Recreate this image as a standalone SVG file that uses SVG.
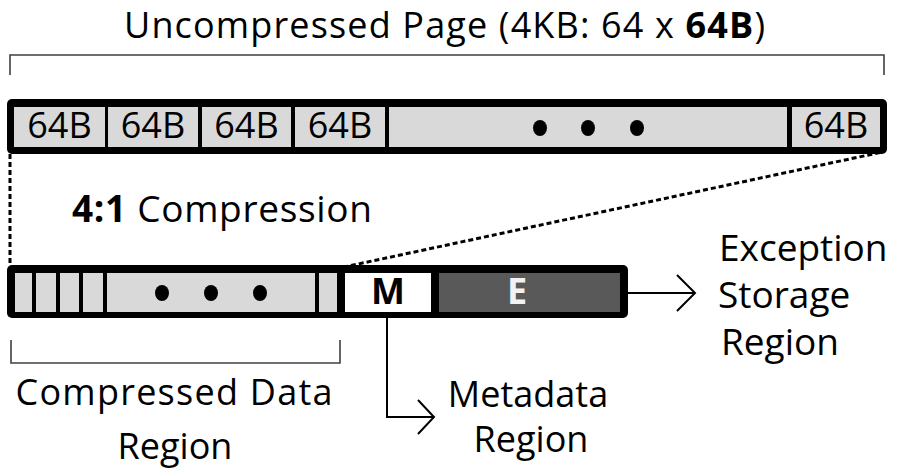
<svg xmlns="http://www.w3.org/2000/svg" width="898" height="470" viewBox="0 0 898 470">
<style>
text{font-family:"Open Sans","Noto Sans","Liberation Sans",sans-serif;fill:#000}
.t{font-size:37px}
.c{font-size:36px;text-anchor:middle}
.b{font-weight:bold}
.bar{fill:#000}
.g{fill:#d9d9d9}
.dot{fill:#000}
.br{fill:none;stroke:#404040;stroke-width:1.6}
.dash{fill:none;stroke:#000;stroke-width:3;stroke-dasharray:5 3}
.ln{fill:none;stroke:#000;stroke-width:2}
</style>
<g id="connectors">
<path class="dash" d="M10,154 V265"/>
<path class="dash" d="M880,152.5 L345,266.8"/>
<path class="br" d="M10,75 V55 H884 V75"/>
<path class="br" d="M11,340 V363 H340 V340"/>
<path class="ln" d="M628,293 H695 M677,275 L695,293 L677,311"/>
<path class="ln" d="M387,318 V417 H434 M418,400 L434,417 L418,434"/>
</g>
<g id="title">
<text x="124" y="38" font-size="36" textLength="641">Uncompressed Page (4KB: 64 x <tspan class="b">64B</tspan>)</text>
</g>
<g id="uncompressed-page">
<rect class="bar" x="7" y="99" width="880" height="55" rx="5"/>
<rect class="g" x="14" y="107" width="91" height="40"/>
<rect class="g" x="108" y="107" width="90" height="40"/>
<rect class="g" x="202" y="107" width="89" height="40"/>
<rect class="g" x="295" y="107" width="90" height="40"/>
<rect class="g" x="389" y="107" width="398" height="40"/>
<rect class="g" x="792" y="107" width="88" height="40"/>
<text class="c" x="59.5" y="138">64B</text>
<text class="c" x="153" y="138">64B</text>
<text class="c" x="246.5" y="138">64B</text>
<text class="c" x="340" y="138">64B</text>
<text class="c" x="836" y="138">64B</text>
<ellipse class="dot" cx="540" cy="128" rx="7" ry="8"/>
<ellipse class="dot" cx="588" cy="128" rx="7" ry="8"/>
<ellipse class="dot" cx="637" cy="128" rx="7" ry="8"/>
</g>
<g id="compression-label">
<text class="t" x="72" y="222" textLength="300"><tspan class="b">4:1</tspan> Compression</text>
</g>
<g id="compressed-page">
<rect class="bar" x="7" y="265" width="621" height="53" rx="5"/>
<rect class="g" x="15" y="273" width="17" height="39"/>
<rect class="g" x="36" y="273" width="20" height="39"/>
<rect class="g" x="60" y="273" width="19" height="39"/>
<rect class="g" x="83" y="273" width="20" height="39"/>
<rect class="g" x="107" y="273" width="208" height="39"/>
<rect class="g" x="319" y="273" width="18" height="39"/>
<rect x="345" y="273" width="86" height="39" fill="#fff"/>
<rect x="439" y="273" width="181" height="39" fill="#595959"/>
<ellipse class="dot" cx="162" cy="293" rx="7" ry="8"/>
<ellipse class="dot" cx="211" cy="293" rx="7" ry="8"/>
<ellipse class="dot" cx="260" cy="293" rx="7" ry="8"/>
<text class="c b" x="388" y="304" font-size="33">M</text>
<text class="c b" x="517" y="304" font-size="33" style="fill:#f2f2f2">E</text>
</g>
<g id="label-compressed-data">
<text class="c" x="174" y="405" font-size="37" textLength="317">Compressed Data</text>
<text class="c" x="175" y="459" font-size="37">Region</text>
</g>
<g id="label-metadata">
<text class="c" x="528" y="407" font-size="37">Metadata</text>
<text class="c" x="531" y="452" font-size="37">Region</text>
</g>
<g id="label-exception">
<text class="t" x="719" y="261">Exception</text>
<text class="t" x="718" y="308">Storage</text>
<text class="t" x="721" y="355">Region</text>
</g>
</svg>
